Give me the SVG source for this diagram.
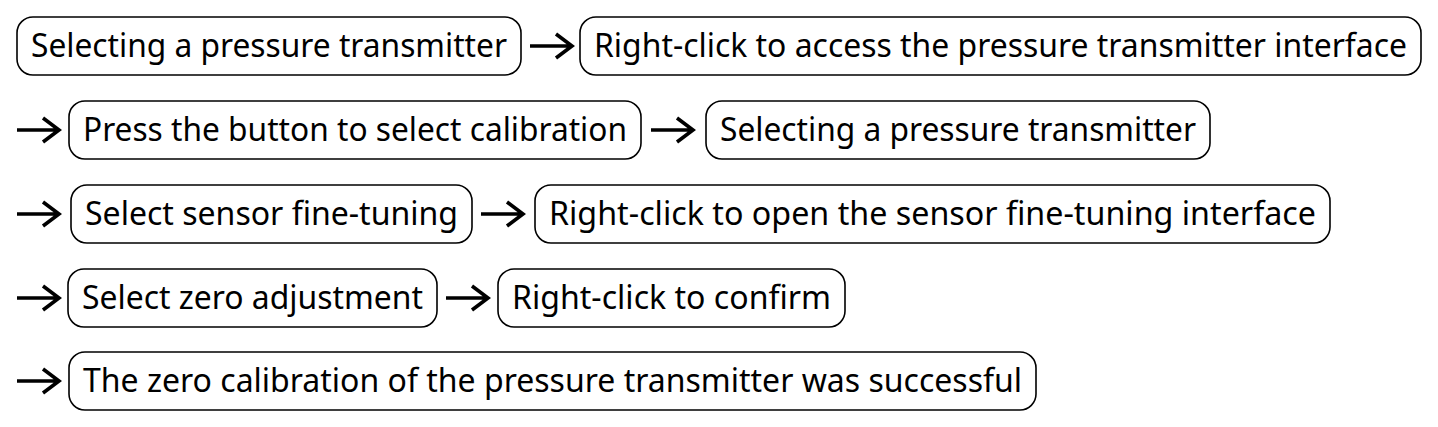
<svg xmlns="http://www.w3.org/2000/svg" width="1438" height="427" viewBox="0 0 1438 427">
<style>
.box{fill:#fff;stroke:#000;stroke-width:1.6}
.t{font-family:"Noto Sans","DejaVu Sans",sans-serif;font-size:33px;fill:#000;text-anchor:middle}
.arr{fill:none;stroke:#000;stroke-width:3.6;stroke-linecap:butt;stroke-linejoin:miter}
</style>
<rect width="1438" height="427" fill="#fff"/>
<g id="n1"><rect class="box" x="17" y="17" width="504" height="58" rx="16"/><text class="t" x="269" y="57" textLength="476" lengthAdjust="spacingAndGlyphs">Selecting a pressure transmitter</text></g>
<g id="n2"><rect class="box" x="580" y="17" width="841" height="58" rx="16"/><text class="t" x="1000.5" y="57" textLength="813" lengthAdjust="spacingAndGlyphs">Right-click to access the pressure transmitter interface</text></g>
<g id="n3"><rect class="box" x="69" y="101" width="572" height="58" rx="16"/><text class="t" x="355" y="141" textLength="544" lengthAdjust="spacingAndGlyphs">Press the button to select calibration</text></g>
<g id="n4"><rect class="box" x="706" y="101" width="504" height="58" rx="16"/><text class="t" x="958" y="141" textLength="476" lengthAdjust="spacingAndGlyphs">Selecting a pressure transmitter</text></g>
<g id="n5"><rect class="box" x="71" y="185" width="401" height="58" rx="16"/><text class="t" x="271.5" y="225" textLength="373" lengthAdjust="spacingAndGlyphs">Select sensor fine-tuning</text></g>
<g id="n6"><rect class="box" x="535" y="185" width="795" height="58" rx="16"/><text class="t" x="932.5" y="225" textLength="767" lengthAdjust="spacingAndGlyphs">Right-click to open the sensor fine-tuning interface</text></g>
<g id="n7"><rect class="box" x="68" y="269" width="369" height="58" rx="16"/><text class="t" x="252.5" y="309" textLength="341" lengthAdjust="spacingAndGlyphs">Select zero adjustment</text></g>
<g id="n8"><rect class="box" x="498" y="269" width="347" height="58" rx="16"/><text class="t" x="671.5" y="309" textLength="319" lengthAdjust="spacingAndGlyphs">Right-click to confirm</text></g>
<g id="n9"><rect class="box" x="69" y="352" width="967" height="58" rx="16"/><text class="t" x="552.5" y="392" textLength="939" lengthAdjust="spacingAndGlyphs">The zero calibration of the pressure transmitter was successful</text></g>
<g id="connectors">
<path class="arr" d="M530 46H572M556 34L572 46L556 58"/>
<path class="arr" d="M17 130H59M43 118L59 130L43 142"/>
<path class="arr" d="M651 130H693M677 118L693 130L677 142"/>
<path class="arr" d="M17 214H59M43 202L59 214L43 226"/>
<path class="arr" d="M481 214H523M507 202L523 214L507 226"/>
<path class="arr" d="M17 298H59M43 286L59 298L43 310"/>
<path class="arr" d="M446 298H488M472 286L488 298L472 310"/>
<path class="arr" d="M17 381H59M43 369L59 381L43 393"/>
</g>
</svg>
